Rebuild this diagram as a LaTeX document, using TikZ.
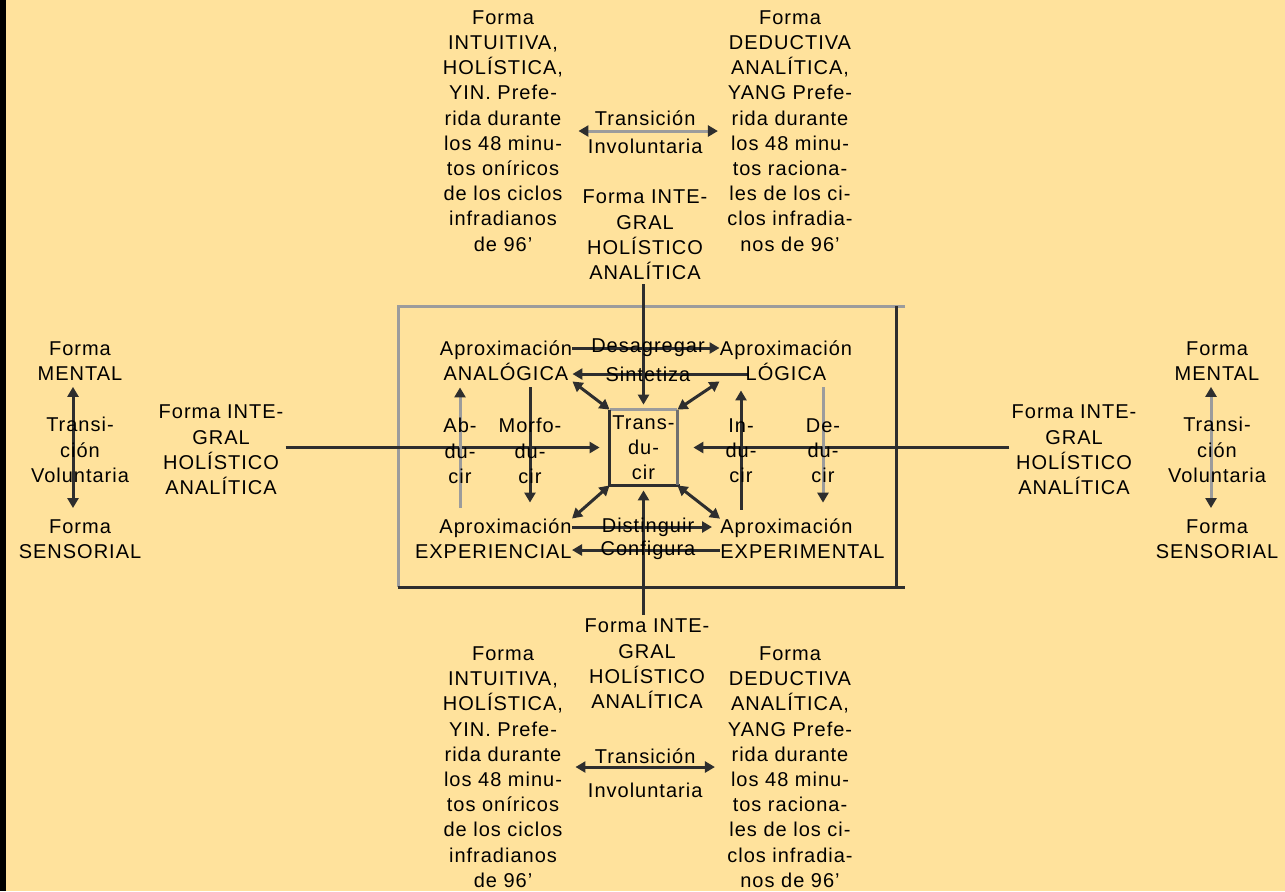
\documentclass[tikz,border=0pt]{standalone}
\usepackage{fontspec}
\setmainfont{Liberation Sans}[LetterSpace=5.0]
\usepackage{tikz}
\usetikzlibrary{arrows.meta,positioning,calc}
\definecolor{paperyellow}{HTML}{FFE29C}
\definecolor{wiredark}{HTML}{2E2E2E}
\definecolor{wiremid}{HTML}{707070}
\definecolor{wiregray}{HTML}{9C9C9C}
\pgfdeclarelayer{paper}
\pgfdeclarelayer{wires}
\pgfsetlayers{paper,wires,main}
\newcommand{\diafont}{\fontsize{10pt}{12.6pt}\selectfont}

\begin{document}
\begin{tikzpicture}[
  x=0.5pt, y=-0.5pt,
  txt/.style={font=\diafont, align=center, inner sep=0pt},
  arr/.style={-{Triangle[length=5pt,width=5.5pt]}, line width=1.5pt, draw=wiredark},
  twoarr/.style={{Triangle[length=5pt,width=5.5pt]}-{Triangle[length=5pt,width=5.5pt]}, line width=1.5pt, draw=wiredark},
  grayarr/.style={-{Triangle[length=5pt,width=5.5pt,color=wiredark]}, line width=1.5pt, draw=wiregray},
  graytwoarr/.style={{Triangle[length=5pt,width=5.5pt,color=wiredark]}-{Triangle[length=5pt,width=5.5pt,color=wiredark]}, line width=1.5pt, draw=wiregray},
  darkline/.style={line width=1.5pt, draw=wiredark},
  grayline/.style={line width=1.5pt, draw=wiregray}
]
\useasboundingbox (0,0) rectangle (1285,891);
\begin{pgfonlayer}{paper}
\fill[paperyellow] (0,0) rectangle (1285,891);
\fill[black] (0,0) rectangle (6,891);
\end{pgfonlayer}

% upper forms
\node[txt] (topyin) at (503,131) {Forma\\INTUITIVA,\\HOLÍSTICA,\\YIN. Prefe-\\rida durante\\los 48 minu-\\tos oníricos\\de los ciclos\\infradianos\\de 96'};
\node[txt] (topyang) at (790,131) {Forma\\DEDUCTIVA\\ANALÍTICA,\\YANG Prefe-\\rida durante\\los 48 minu-\\tos raciona-\\les de los ci-\\clos infradia-\\nos de 96'};
\node[txt] (topint) at (645,235) {Forma INTE-\\GRAL\\HOLÍSTICO\\ANALÍTICA};

% side forms
\node[txt] (lint) at (221,450) {Forma INTE-\\GRAL\\HOLÍSTICO\\ANALÍTICA};
\node[txt] (rint) at (1074,450) {Forma INTE-\\GRAL\\HOLÍSTICO\\ANALÍTICA};
\node[txt] (lment) at (80,361) {Forma\\MENTAL};
\node[txt] (ltrans) at (80,450) {Transi-\\ción\\Voluntaria};
\node[txt] (lsens) at (80,539) {Forma\\SENSORIAL};
\node[txt] (rment) at (1217,361) {Forma\\MENTAL};
\node[txt] (rtrans) at (1217,450) {Transi-\\ción\\Voluntaria};
\node[txt] (rsens) at (1217,539) {Forma\\SENSORIAL};

% inside the frame
\node[txt] (anal) at (506,361) {Aproximación\\ANALÓGICA};
\node[txt] (logi) at (786,361) {Aproximación\\LÓGICA};
\node[txt, anchor=east, align=right] (expc) at (572,539) {Aproximación\\EXPERIENCIAL};
\node[txt, anchor=west, align=left] (expm) at (720,539) {Aproximación\\EXPERIMENTAL};
\node[txt] (desag) at (648,348) {Desagregar};
\node[txt] (sint) at (648,374) {Sintetiza};
\node[txt] (dist) at (648,527) {Distinguir};
\node[txt] (conf) at (648,550) {Configura};
\node[txt] (abd) at (460,451) {Ab-\\du-\\cir};
\node[txt] (morf) at (530,451) {Morfo-\\du-\\cir};
\node[txt] (ind) at (741,451) {In-\\du-\\cir};
\node[txt] (ded) at (823,451) {De-\\du-\\cir};
\node[txt, minimum width=33.5pt, minimum height=37.5pt] (trans) at (643.5,447.5) {Trans-\\du-\\cir};

% lower forms
\node[txt] (botint) at (647,664) {Forma INTE-\\GRAL\\HOLÍSTICO\\ANALÍTICA};
\node[txt] (botyin) at (503,767) {Forma\\INTUITIVA,\\HOLÍSTICA,\\YIN. Prefe-\\rida durante\\los 48 minu-\\tos oníricos\\de los ciclos\\infradianos\\de 96'};
\node[txt] (botyang) at (790,767) {Forma\\DEDUCTIVA\\ANALÍTICA,\\YANG Prefe-\\rida durante\\los 48 minu-\\tos raciona-\\les de los ci-\\clos infradia-\\nos de 96'};

\begin{pgfonlayer}{wires}
% frame
\coordinate (frametl) at (398,306);
\coordinate (framebr) at (896,587);
\draw[grayline] (905,306) -- (frametl) -- (frametl |- framebr);
\draw[darkline] (framebr |- frametl) -- (framebr);
\draw[darkline] (frametl |- framebr) -- (905,587);

% transducir box
\draw[grayline] (trans.north west) -- (trans.north east);
\draw[darkline] (trans.north west) -- (trans.south west) -- ([xshift=1.5pt]trans.south east);
\draw[line width=1.5pt, draw=wiremid] (trans.north east) -- (trans.south east);

% involuntary transitions
\draw[graytwoarr, shorten <=7.5pt, shorten >=4.5pt] (topyin) -- (topyang)
  node[txt, midway, above=2pt] {Transición}
  node[txt, midway, below=3pt] {Involuntaria};
\draw[twoarr, shorten <=6pt, shorten >=6pt] (botyin) -- (botyang)
  node[txt, midway, above=1pt] {Transición}
  node[txt, midway, below=7pt] {Involuntaria};

% voluntary transitions
\draw[twoarr, shorten <=3pt, shorten >=5.5pt] ($(lment.south)+(-7,0)$) -- ($(lsens.north)+(-7,0)$);
\draw[graytwoarr, shorten <=3pt, shorten >=5.5pt] ($(rment.south)+(-6,0)$) -- ($(rsens.north)+(-6,0)$);

% integral forms into transducir
\draw[arr, shorten <=2pt, shorten >=2.5pt] (trans.north |- topint.south) -- (trans.north);
\draw[arr, shorten <=2pt, shorten >=2.5pt] (trans.south |- botint.north) -- (trans.south);
\draw[arr, shorten <=1pt, shorten >=5pt] (lint.east |- trans.west) -- (trans.west);
\draw[arr, shorten <=1pt, shorten >=8pt] (rint.west |- trans.east) -- (trans.east);

% horizontal links
\draw[arr] (anal.east |- desag) -- (logi.west |- desag);
\draw[arr] ($(logi.west |- sint)+(29,0)$) -- (anal.east |- sint);
\draw[arr, shorten >=4pt] (expc.east |- dist) -- (expm.west |- dist);
\draw[arr] (expm.west |- conf) -- (expc.east |- conf);

% vertical links
\draw[grayarr, shorten <=5.5pt, shorten >=3pt] (abd |- expc.north) -- (abd |- anal.south);
\draw[arr, shorten <=3pt, shorten >=8pt] (morf |- anal.south) -- (morf |- expc.north);
\draw[arr, shorten <=4.5pt, shorten >=4.5pt] (ind |- expm.north) -- (ind |- logi.south);
\draw[grayarr, shorten <=3pt, shorten >=8pt] (ded |- logi.south) -- (ded |- expm.north);

% diagonal links
\draw[twoarr] (trans.north west) -- (anal.south east);
\draw[twoarr] (trans.north east) -- (logi.south west);
\draw[twoarr] (trans.south west) -- (expc.north east);
\draw[twoarr] (trans.south east) -- (expm.north west);
\end{pgfonlayer}

\end{tikzpicture}
\end{document}
